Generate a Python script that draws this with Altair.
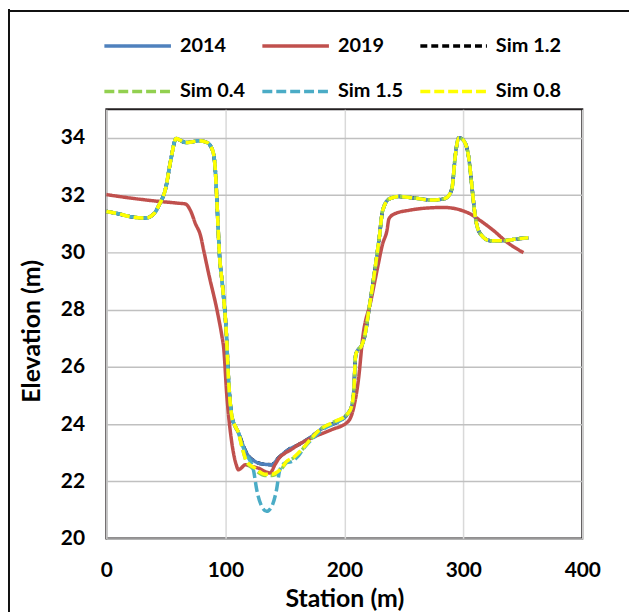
import altair as alt
import pandas as pd

# ---------------- data ----------------
series_names = ["2014", "2019", "Sim 1.2", "Sim 0.4", "Sim 1.5", "Sim 0.8"]
series_colors = ["#4f81bd", "#c0504d", "#000000", "#92d050", "#4bacc6", "#ffff00"]
series_dashes = [[1, 0], [1, 0], [7, 4], [10, 4], [10, 4], [10, 4]]
# drawing order (bottom to top)
draw_order = ["Sim 1.2", "2014", "2019", "Sim 0.4", "Sim 1.5", "Sim 0.8"]
dash_phase = {"Sim 1.5": 7}

# left bank shared by 2014 and the simulations
left_bank_st = [0, 10, 20, 33, 40, 44, 50, 54, 58.7, 62, 66.5, 72, 77.7, 84.6, 89.4, 91.6,
                93, 95, 97.7, 100.8, 102.7, 105.5, 108, 111]
left_bank_el = [31.43, 31.35, 31.25, 31.2, 31.35, 31.63, 32.27, 33.2, 33.98, 33.92, 33.84, 33.86,
                33.9, 33.84, 33.55, 32.85, 31.7, 29.96, 28.8, 27.2, 25.54, 24.26, 23.95, 23.7]

# right bank shared by 2014 and the simulations
right_bank_st = [203, 206, 208, 209.5, 211.5, 214, 217, 221, 225.2, 229.4, 232.2, 237.8, 246.2,
                 258.7, 272.6, 283.7, 288, 290.6, 293.4, 296.2, 300.4, 304.6, 307.3, 310.1,
                 314.3, 322.6, 333.8, 344.9, 354.6]
right_bank_el = [24.37, 24.6, 25.2, 26.4, 26.6, 26.7, 27.05, 28.09, 29.25, 30.53, 31.46, 31.87,
                 31.95, 31.9, 31.83, 31.87, 32.0, 32.27, 33.43, 34.01, 33.9, 33.3, 32.27, 31.23,
                 30.65, 30.41, 30.41, 30.47, 30.51]

# channel bottoms
bed_2014_st = [115, 118, 125, 132, 139, 144.5, 152.8, 161, 172.3, 183.4, 194.6]
bed_2014_el = [23.25, 22.98, 22.69, 22.6, 22.58, 22.81, 23.1, 23.27, 23.56, 23.9, 24.08]

bed_sim12_st = [115, 118, 125, 132, 139, 144.5, 152.8, 161, 172.3, 183.4, 194.6]
bed_sim12_el = [23.25, 22.98, 22.69, 22.6, 22.58, 22.81, 23.1, 23.27, 23.56, 23.9, 24.08]

bed_sim08_st = [114, 118, 125, 133.3, 139, 145.8, 151.4, 158.4, 165.3, 172.3, 179.3, 189]
bed_sim08_el = [23.2, 22.69, 22.46, 22.25, 22.25, 22.4, 22.69, 22.87, 23.16, 23.5, 23.8, 24.03]

bed_sim04_st = [114, 118, 125, 133.3, 139, 145.8, 151.4, 158.4, 165.3, 172.3, 179.3, 189]
bed_sim04_el = [23.2, 22.66, 22.4, 22.2, 22.2, 22.36, 22.66, 22.85, 23.14, 23.48, 23.8, 24.03]

bed_sim15_st = [114, 118, 121, 123.6, 126.4, 130.6, 134.7, 139, 143, 145.8, 150, 155.6, 161,
                166.7, 172.3, 183.4, 194.6]
bed_sim15_el = [23.3, 22.9, 22.7, 22.4, 21.7, 21.12, 20.95, 21.12, 21.7, 22.4, 22.64, 22.69,
                22.87, 23.2, 23.45, 23.85, 24.08]

# 2019 survey
s2019_st = [0, 20, 40, 60, 66.5, 70.7, 74.9, 79.1, 81.8, 86, 93, 97.2, 98.5, 101.3, 105.5, 109,
            111, 113, 116.7, 122, 127.8, 133, 137.6, 141.7, 145, 150, 155, 161, 175, 189, 203,
            208, 212, 215.4, 222.4, 228, 232.2, 235.8, 237.5, 241.9, 255.8, 269.7, 283.7, 297.6,
            306, 314.3, 325.5, 336.6, 350.5]
s2019_el = [32.02, 31.9, 31.8, 31.72, 31.69, 31.46, 31.0, 30.59, 30.07, 29.25, 27.98, 27.05,
            26.7, 24.96, 23.33, 22.6, 22.4, 22.45, 22.58, 22.52, 22.46, 22.35, 22.29, 22.58,
            22.8, 22.98, 23.1, 23.27, 23.56, 23.8, 24.08, 24.6, 25.6, 27.0, 28.32, 29.48, 30.3,
            30.76, 31.17, 31.34, 31.48, 31.55, 31.57, 31.48, 31.34, 31.11, 30.76, 30.36, 29.99]

x_ticks = [0, 100, 200, 300, 400]
y_ticks = [20, 22, 24, 26, 28, 30, 32, 34]

# ---------------- table ----------------
rows = []


def add(name, st, el):
    for s, e in zip(st, el):
        rows.append({"series": name, "station": s, "elev": e})


def add_sim(name, bst, bel):
    add(name, left_bank_st + bst + right_bank_st, left_bank_el + bel + right_bank_el)


add_sim("2014", bed_2014_st, bed_2014_el)
add("2019", s2019_st, s2019_el)
add_sim("Sim 1.2", bed_sim12_st, bed_sim12_el)
add_sim("Sim 0.4", bed_sim04_st, bed_sim04_el)
add_sim("Sim 1.5", bed_sim15_st, bed_sim15_el)
add_sim("Sim 0.8", bed_sim08_st, bed_sim08_el)
df = pd.DataFrame(rows)

FONT = "Lato"

legend = alt.Legend(
    title=None, orient="none", legendX=-4, legendY=-99.5, columns=3, direction="horizontal",
    symbolType="stroke", symbolSize=4489, symbolStrokeWidth=3.5,
    labelFont=FONT, labelFontWeight="bold", labelFontSize=20, labelColor="#000000",
    labelOffset=7, labelLimit=200, columnPadding=10, rowPadding=-26, padding=0,
)

x_enc = alt.X("station:Q", scale=alt.Scale(domain=[0, 400], nice=False),
              axis=alt.Axis(values=x_ticks, title="Station (m)", ticks=False, domain=False,
                            labelPadding=21, labelFlush=False,
                            gridColor="#d9d9d9", gridWidth=1.5,
                            titleX=239.5, titleY=60, titleAlign="center",
                            titleBaseline="middle"))
y_enc = alt.Y("elev:Q", scale=alt.Scale(domain=[20, 35], nice=False, zero=False),
              axis=alt.Axis(values=y_ticks, title="Elevation (m)", ticks=False, domain=False,
                            labelPadding=22, labelFlush=False,
                            gridColor="#c0c0c0", gridWidth=1.5,
                            titleX=-75, titleY=223, titleAngle=270, titleAlign="center",
                            titleBaseline="middle"))
color_enc = alt.Color("series:N", scale=alt.Scale(domain=series_names, range=series_colors),
                      legend=legend)
dash_enc = alt.StrokeDash("series:N", scale=alt.Scale(domain=series_names, range=series_dashes),
                          legend=legend)

layers = []
for name in draw_order:
    mark_kwargs = {"strokeWidth": 3.5, "interpolate": "monotone"}
    if name in dash_phase:
        mark_kwargs["strokeDashOffset"] = dash_phase[name]
    layers.append(
        alt.Chart(df).transform_filter(alt.datum.series == name)
        .mark_line(**mark_kwargs)
        .encode(x=x_enc, y=y_enc, color=color_enc, strokeDash=dash_enc)
    )

frame_df = pd.DataFrame({"k": [0]})
frame_left = alt.Chart(frame_df).mark_rule(color="#111111", strokeWidth=2).encode(
    x=alt.value(-98), y=alt.value(-101), y2=alt.value(506))
frame_top = alt.Chart(frame_df).mark_rule(color="#111111", strokeWidth=2).encode(
    x=alt.value(-99), x2=alt.value(530), y=alt.value(-99))

chart = alt.layer(*layers, frame_left, frame_top).properties(
    width=479, height=432,
    padding={"left": 99, "top": 100, "right": 47, "bottom": 74},
    autosize=alt.AutoSizeParams(type="none"),
    background="white",
).configure_view(stroke="#231f20", strokeWidth=2).configure_axis(
    labelFont=FONT, labelFontWeight="bold", labelFontSize=21, labelColor="#000000",
    titleFont=FONT, titleFontWeight="bold", titleFontSize=25, titleColor="#000000",
)

chart.save("out.html", embed_options={"renderer": "svg", "actions": False})
